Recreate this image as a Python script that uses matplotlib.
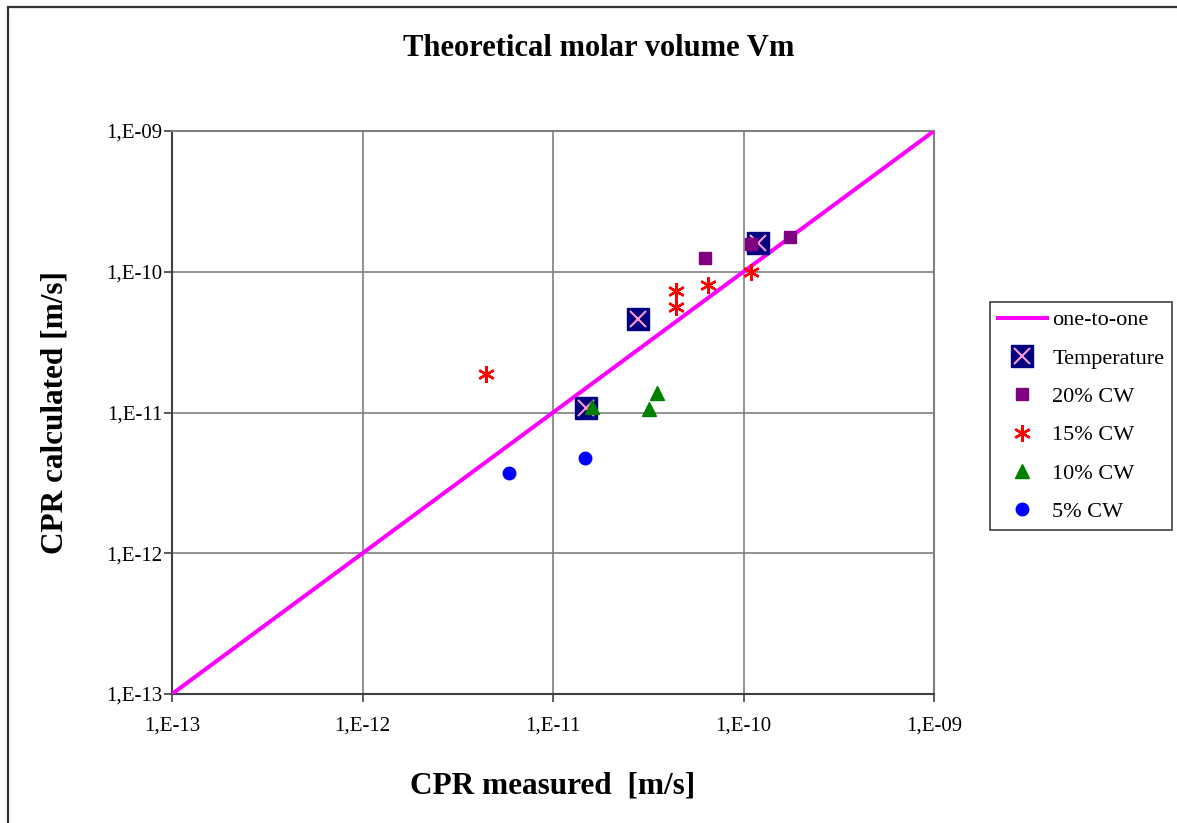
import matplotlib
matplotlib.use("Agg")
from matplotlib import pyplot as plt
from matplotlib.patches import Rectangle
from matplotlib.ticker import FixedLocator, FixedFormatter, NullLocator

plt.rcParams['font.family'] = ['Liberation Serif', 'DejaVu Serif']

# datos
uno_x = [1e-13, 1e-9]
uno_y = [1e-13, 1e-9]

temp_x = [1.49e-11, 2.79e-11, 1.19e-10]
temp_y = [1.08e-11, 4.62e-11, 1.60e-10]

cw20_x = [6.28e-11, 1.09e-10, 1.75e-10]
cw20_y = [1.25e-10, 1.57e-10, 1.77e-10]

cw15_x = [4.45e-12, 4.43e-11, 4.43e-11, 6.52e-11, 1.09e-10]
cw15_y = [1.88e-11, 7.30e-11, 5.60e-11, 8.05e-11, 9.96e-11]

cw10_x = [1.60e-11, 3.19e-11, 3.52e-11]
cw10_y = [1.09e-11, 1.06e-11, 1.38e-11]

cw5_x = [5.87e-12, 1.47e-11]
cw5_y = [3.72e-12, 4.75e-12]

ticks = [1e-13, 1e-12, 1e-11, 1e-10, 1e-9]
tick_labels = ["1,E-13", "1,E-12", "1,E-11", "1,E-10", "1,E-09"]

fig = plt.figure(figsize=(11.77, 8.23), dpi=100)
ax = fig.add_axes([172/1177, 1-694/823, (934-172)/1177, (694-131)/823])

ax.set_xscale('log')
ax.set_yscale('log')
ax.set_xlim(1e-13, 1e-9)
ax.set_ylim(1e-13, 1e-9)

l1, = ax.plot(uno_x, uno_y, color='#FF00FF', lw=2.9, label='one-to-one', zorder=3)
t1, = ax.plot(temp_x, temp_y, ls='none', marker='s', ms=16, color='#000080', zorder=4)
t2, = ax.plot(temp_x, temp_y, ls='none', marker='x', ms=12, mew=1.5, color='#FF99CC', zorder=5)
p20, = ax.plot(cw20_x, cw20_y, ls='none', marker='s', ms=8.5, color='#800080', zorder=6)
p15, = ax.plot(cw15_x, cw15_y, ls='none', marker=(6, 2, 0), ms=12, mew=1.7, color='#FF0000', zorder=6)
p10, = ax.plot(cw10_x, cw10_y, ls='none', marker='^', ms=10, color='#008000', zorder=6)
p5, = ax.plot(cw5_x, cw5_y, ls='none', marker='o', ms=9, color='#0000FF', zorder=6)

ax.xaxis.set_major_locator(FixedLocator(ticks))
ax.xaxis.set_major_formatter(FixedFormatter(tick_labels))
ax.yaxis.set_major_locator(FixedLocator(ticks))
ax.yaxis.set_major_formatter(FixedFormatter(tick_labels))
ax.xaxis.set_minor_locator(NullLocator())
ax.yaxis.set_minor_locator(NullLocator())
ax.tick_params(direction='out', length=6, width=1.2, color='#404040', labelsize=15)
ax.tick_params(axis='x', pad=10)
ax.tick_params(axis='y', pad=1)

ax.grid(True, color='#808080', lw=1.2)
for s in ['top', 'right']:
	ax.spines[s].set_color('#808080')
	ax.spines[s].set_linewidth(1.5)
for s in ['left', 'bottom']:
	ax.spines[s].set_color('#404040')
	ax.spines[s].set_linewidth(1.5)

ax.set_xlabel("CPR measured  [m/s]", fontsize=22.5, fontweight='bold', labelpad=26)
ax.set_ylabel("CPR calculated [m/s]", fontsize=22.5, fontweight='bold', labelpad=26)
fig.text(599/1177, 1-49/823, "Theoretical molar volume Vm", fontsize=22, fontweight='bold',
	ha='center', va='center')

leg = fig.legend([l1, (t1, t2), p20, p15, p10, p5],
	["one-to-one", "Temperature", "20% CW", "15% CW", "10% CW", "5% CW"],
	loc='upper left', bbox_to_anchor=(990/1177, 1-302/823), borderaxespad=0,
	fontsize=16, fancybox=False, edgecolor='#404040', framealpha=1,
	handlelength=2.2, labelspacing=0.8, borderpad=0.35, handletextpad=0.25)
leg.get_frame().set_linewidth(1.2)

# marco exterior
fig.patches.append(Rectangle((7.5/1177, -0.1), 1.2, 1-6.5/823+0.1, transform=fig.transFigure,
	fill=False, edgecolor='#333333', lw=1.6))

fig.savefig("out.png", dpi=100)
